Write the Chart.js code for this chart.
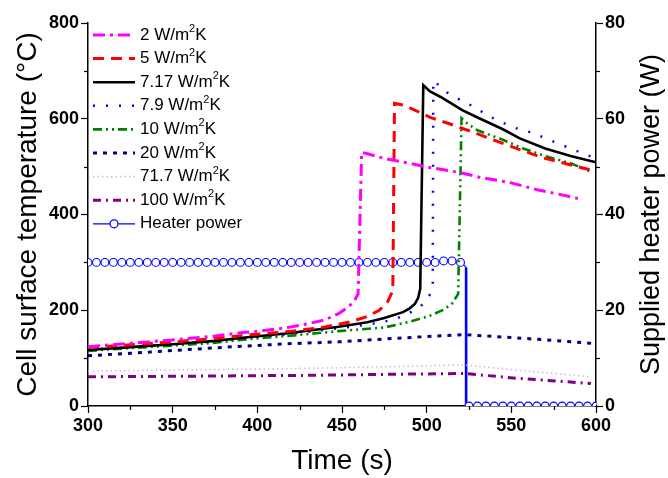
<!DOCTYPE html>
<html>
<head>
<meta charset="utf-8">
<script src="https://cdn.jsdelivr.net/npm/chart.js@4.4.1/dist/chart.umd.min.js"></script>
<style>
  html, body { margin: 0; padding: 0; background: #fff; }
  #wrap { width: 668px; height: 478px; }
</style>
</head>
<body>
<div id="wrap"><canvas id="chart" width="668" height="478"></canvas></div>
<script>
// legend labels, one per series
var seriesLabels = ['2 W/m²K', '5 W/m²K', '7.17 W/m²K', '7.9 W/m²K', '10 W/m²K', '20 W/m²K', '71.7 W/m²K', '100 W/m²K', 'Heater power'];

// time (s) and cell surface temperature (C)
var time2 = [300, 325, 350, 375, 390, 405, 418, 430, 440, 448, 453, 457, 459.5, 461.6, 465, 475, 490, 502, 519, 531, 550, 566, 580, 591];
var temp2 = [124, 131, 138, 146, 153, 158, 164, 172, 180, 193, 205, 218, 234, 530, 527, 517, 507, 498, 488, 478, 466, 451, 441, 432];

var time5 = [300, 325, 350, 375, 390, 420, 440, 455, 465, 472, 477, 480, 481, 487, 502, 513, 529, 543, 568, 598];
var temp5 = [122, 128, 134, 141, 147, 156, 165, 176, 187, 200, 218, 241, 632, 628, 603, 590, 570, 551, 519, 492];

var time717 = [300, 325, 350, 375, 390, 418, 447, 465, 475, 486, 490, 493, 495, 496.2, 498, 502, 508, 515, 521, 531, 545, 555, 570, 585, 600];
var temp717 = [117, 123, 129, 136, 142, 152, 165, 175, 184, 196, 204, 213, 226, 245, 670, 657, 646, 631, 618, 601, 578, 559, 538, 522, 509];

var time79 = [300, 325, 350, 375, 390, 418, 447, 465, 475, 483, 490, 495, 498.8, 501.5, 503.6, 503.9, 512, 520, 528, 536, 544, 553, 561, 569, 577, 585, 592, 597];
var temp79 = [118, 123, 129, 135, 141, 150, 162, 170, 176, 184, 195, 204, 216, 230, 247, 680, 655, 639, 625, 607, 593, 580, 572, 561, 549, 538, 528, 521];

var time10 = [300, 325, 350, 375, 390, 420, 450, 475, 490, 496, 501.6, 510, 515, 518.6, 520.6, 524, 530, 545, 557, 570, 585, 596];
var temp10 = [115, 121, 126, 132, 138, 147, 157, 164, 176, 182, 188, 201, 214, 234, 601, 590, 576, 556, 538, 522, 507, 491];

var time20 = [300, 325, 350, 387, 418, 448, 475, 500, 522, 550, 575, 600];
var temp20 = [105, 110, 116, 124, 130, 134, 140, 145, 149, 143, 137, 130];

var time717b = [300, 350, 400, 450, 500, 522, 553, 597];
var temp717b = [73, 75, 77, 80, 84, 86, 75, 61];

var time100 = [300, 350, 387, 430, 475, 522, 553, 597];
var temp100 = [61, 62, 63, 64, 66, 68, 58, 47];

// heater power (W) on the right axis
var heaterTime = [300, 305, 310, 315, 320, 325, 330, 335, 340, 345, 350, 355, 360, 365, 370, 375, 380, 385, 390, 395,
    400, 405, 410, 415, 420, 425, 430, 435, 440, 445, 450, 455, 460, 465, 470, 475, 480, 485, 490, 495,
    500, 505, 510, 515, 520, 523.3, 523.3,
    525, 530, 535, 540, 545, 550, 555, 560, 565, 570, 575, 580, 585, 590, 595, 600];
var heaterPower = [30, 30, 30, 30, 30, 30, 30, 30, 30, 30, 30, 30, 30, 30, 30, 30, 30, 30, 30, 30,
    30, 30, 30, 30, 30, 30, 30, 30, 30, 30, 30, 30, 30, 30, 30, 30, 30, 30, 30, 30,
    30, 30, 30.3, 30.3, 30, 29, 0,
    0, 0, 0, 0, 0, 0, 0, 0, 0, 0, 0, 0, 0, 0, 0, 0];

// axis ranges: [min, max, minor step, labelled step]
var timeAxis = [300, 600, 25, 50];
var tempAxis = [0, 800, 100, 200];
var powerAxis = [0, 80, 10, 20];

var fontName = '"Liberation Sans", Arial, Helvetica, sans-serif';
var rightTitle = 'Supplied heater power (W)';

function pts(xs, ys) {
    return xs.map(function (x, i) { return {x: x, y: ys[i]}; });
}

function tempSet(i, xs, ys, color, width, dash) {
    return {
        label: seriesLabels[i], data: pts(xs, ys), yAxisID: 'y',
        borderColor: color, borderWidth: width, borderDash: dash,
        pointRadius: 0, tension: 0, fill: false
    };
}

// legend inside the plot, right axis title (reads bottom to top) and short minor ticks
var extras = {
    id: 'extras',
    afterDraw: function (chart) {
        var ctx = chart.ctx;
        var x0 = 93, x1 = 135, tx = 140, y0 = 35, dy = 23.6;
        ctx.save();
        ctx.textBaseline = 'middle';
        ctx.fillStyle = '#000';
        chart.data.datasets.forEach(function (ds, i) {
            var yy = y0 + i * dy;
            ctx.strokeStyle = ds.borderColor;
            ctx.lineWidth = ds.borderWidth;
            ctx.setLineDash(ds.borderDash || []);
            ctx.beginPath();
            ctx.moveTo(x0, yy);
            ctx.lineTo(x1, yy);
            ctx.stroke();
            ctx.setLineDash([]);
            if (ds.yAxisID === 'y1') {
                ctx.fillStyle = '#fff';
                ctx.beginPath();
                ctx.arc((x0 + x1) / 2, yy, 4, 0, Math.PI * 2);
                ctx.fill();
                ctx.lineWidth = 1.2;
                ctx.stroke();
                ctx.fillStyle = '#000';
            }
            var parts = ds.label.split('²');
            ctx.font = '17px ' + fontName;
            ctx.fillText(parts[0], tx, yy);
            if (parts.length > 1) {
                var w = ctx.measureText(parts[0]).width;
                ctx.font = '11px ' + fontName;
                ctx.fillText('2', tx + w, yy - 6);
                var w2 = ctx.measureText('2').width;
                ctx.font = '17px ' + fontName;
                ctx.fillText(parts[1], tx + w + w2, yy);
            }
        });

        // minor ticks, shorter than the labelled ones
        ctx.strokeStyle = '#000';
        ctx.lineWidth = 1.2;
        var area = chart.chartArea;
        [['x', timeAxis], ['y', tempAxis], ['y1', powerAxis]].forEach(function (a) {
            var sc = chart.scales[a[0]];
            sc.ticks.forEach(function (t) {
                if (t.value % a[1][3] === 0) return;
                var p = Math.round(sc.getPixelForValue(t.value)) + 0.5;
                ctx.beginPath();
                if (a[0] === 'x') { ctx.moveTo(p, area.bottom); ctx.lineTo(p, area.bottom + 4); }
                else if (a[0] === 'y') { ctx.moveTo(area.left, p); ctx.lineTo(area.left - 4, p); }
                else { ctx.moveTo(area.right, p); ctx.lineTo(area.right + 4, p); }
                ctx.stroke();
            });
        });

        ctx.translate(652, (area.top + area.bottom) / 2);
        ctx.rotate(-Math.PI / 2);
        ctx.textAlign = 'center';
        ctx.font = '27px ' + fontName;
        ctx.fillText(rightTitle, 0, 0);
        ctx.restore();
    }
};

var datasets = [
    tempSet(0, time2, temp2, '#ff00ff', 3, [12, 5, 3, 5]),
    tempSet(1, time5, temp5, '#ff0000', 3, [11, 7]),
    tempSet(2, time717, temp717, '#000000', 2.6, []),
    tempSet(3, time79, temp79, '#0000ff', 2.5, [2, 11]),
    tempSet(4, time10, temp10, '#008000', 2.6, [9, 4, 2, 4, 2, 4]),
    tempSet(5, time20, temp20, '#000080', 3, [4, 6]),
    tempSet(6, time717b, temp717b, '#dcb4f0', 1.6, [1.5, 3]),
    tempSet(7, time100, temp100, '#800080', 3, [8, 5, 2, 5]),
    {
        label: seriesLabels[8], data: pts(heaterTime, heaterPower), yAxisID: 'y1',
        borderColor: '#0000ff', borderWidth: 1.2, borderDash: [],
        pointRadius: function (c) { return c.raw && c.raw.x % 5 === 0 ? 3.9 : 0; },
        pointBorderColor: '#0000ff', pointBackgroundColor: '#ffffff', pointBorderWidth: 1.1,
        tension: 0, fill: false,
        segment: {
            borderWidth: function (c) { return c.p0.parsed.x === c.p1.parsed.x ? 2.6 : 1.2; }
        }
    }
];

function makeAxis(position, range) {
    return {
        type: 'linear',
        position: position,
        min: range[0], max: range[1],
        grid: {
            drawOnChartArea: false, drawTicks: true, tickLength: 7, tickWidth: 1.2,
            tickColor: function (c) { return c.tick && c.tick.value % range[3] === 0 ? '#000' : 'rgba(0,0,0,0)'; }
        },
        border: {display: true, color: '#000', width: 1.5},
        ticks: {
            color: '#000', font: {size: 18, weight: 'bold', family: fontName}, padding: 2, maxRotation: 0,
            stepSize: range[2],
            callback: function (v) { return v % range[3] === 0 ? v : ''; }
        }
    };
}

var xAxis = makeAxis('bottom', timeAxis);
xAxis.title = {display: true, text: 'Time (s)', color: '#000', font: {size: 28, family: fontName}, padding: {top: 0, bottom: 0}};
xAxis.afterFit = function (s) { s.height = 72; };

var yAxis = makeAxis('left', tempAxis);
yAxis.title = {display: true, text: 'Cell surface temperature (°C)', color: '#000', font: {size: 28, family: fontName}, padding: {top: 11, bottom: 0}};
yAxis.afterFit = function (s) { s.width = 88; };

var y1Axis = makeAxis('right', powerAxis);
y1Axis.title = {display: false};
y1Axis.afterFit = function (s) { s.width = 72; };

var chart = new Chart(document.getElementById('chart').getContext('2d'), {
    type: 'line',
    data: {datasets: datasets},
    options: {
        responsive: false,
        animation: false,
        devicePixelRatio: 1,
        layout: {padding: {top: 23, left: 0, right: 0, bottom: 0}},
        plugins: {legend: {display: false}, tooltip: {enabled: false}},
        scales: {x: xAxis, y: yAxis, y1: y1Axis}
    },
    plugins: [extras]
});
</script>
</body>
</html>
